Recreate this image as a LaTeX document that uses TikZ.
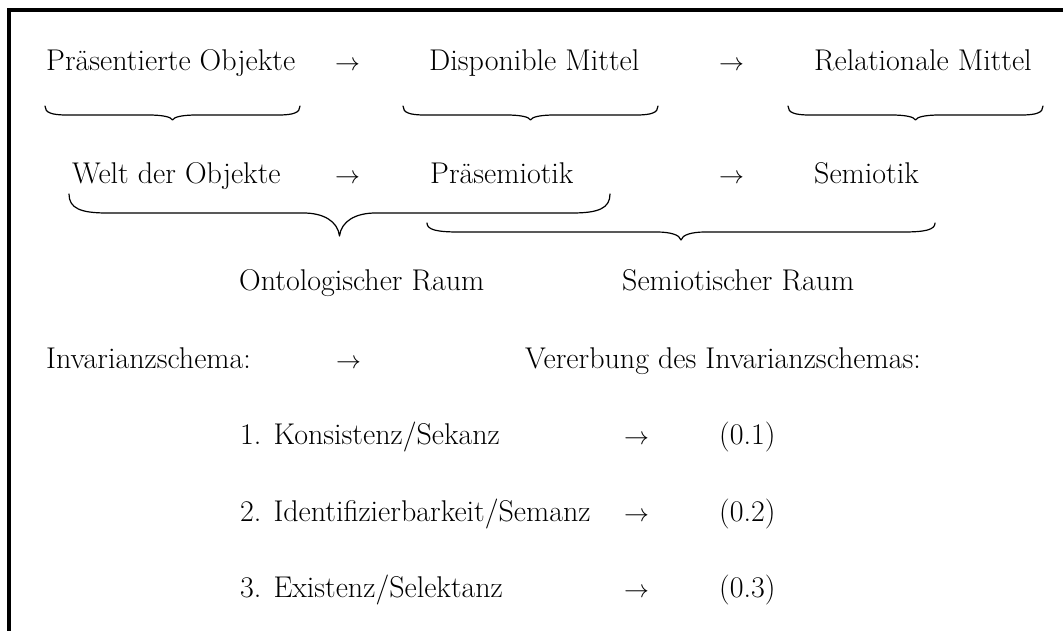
\documentclass[tikz,border=0pt]{standalone}
\usepackage{fontspec}
\newcommand{\mybrace}[7]{% xl xr yend ybar ytip curlwidth tiphalfwidth
  \draw[bracestroke] (#1,#3) .. controls (#1,{#3+0.75*(#4-#3)}) and ({#1+0.3*#6},#4) .. ({#1+#6},#4)
  -- ({(#1+#2)/2-#7},#4) .. controls ({(#1+#2)/2-0.45*#7},#4) and ({(#1+#2)/2-0.05*#7},{#4+0.35*(#5-#4)}) .. ({(#1+#2)/2},#5)
  .. controls ({(#1+#2)/2+0.05*#7},{#4+0.35*(#5-#4)}) and ({(#1+#2)/2+0.45*#7},#4) .. ({(#1+#2)/2+#7},#4)
  -- ({#2-#6},#4) .. controls ({#2-0.3*#6},#4) and (#2,{#3+0.75*(#4-#3)}) .. (#2,#3);}
\begin{document}
\begin{tikzpicture}[x=1pt,y=-1pt,
  txt/.style={anchor=base west, inner sep=0pt, font=\fontsize{30}{34}\selectfont},
  bracestroke/.style={line width=1.2pt, line cap=round, line join=round},
  frameline/.style={line width=3.6pt}]
\clip (0,0) rectangle (1063,630);
\fill[white] (0,0) rectangle (1063,630);
\draw[frameline] (9,640) -- (9,10) -- (1075,10);

% row 1
\node[txt] (po) at (46,70) {Präsentierte Objekte};
\node[txt] (r1a) at (335,70) {$\rightarrow$};
\node[txt] (dm) at (429,70) {Disponible Mittel};
\node[txt] (r1b) at (719,70) {$\rightarrow$};
\node[txt] (rm) at (814,70) {Relationale Mittel};
\mybrace{45}{300}{106}{115}{120}{22}{24}
\mybrace{403}{658}{106}{115}{120}{22}{24}
\mybrace{788}{1043}{106}{115}{120}{22}{24}

% row 2
\node[txt] (wo) at (72,183) {Welt der Objekte};
\node[txt] (r2a) at (335,183) {$\rightarrow$};
\node[txt] (ps) at (430,183) {Präsemiotik};
\node[txt] (r2b) at (719,183) {$\rightarrow$};
\node[txt] (se) at (814,183) {Semiotik};
\mybrace{69}{610}{194}{213}{236}{38}{36}
\mybrace{427}{935}{223}{232}{240}{32}{24}

% row 3
\node[txt] (or) at (239,290) {Ontologischer Raum};
\node[txt] (sr) at (622,290) {Semiotischer Raum};

% row 4
\node[txt] (is) at (46,368) {Invarianzschema:};
\node[txt] (r4) at (336,368) {$\rightarrow$};
\node[txt] (vi) at (525,368) {Vererbung des Invarianzschemas:};

% rows 5-7
\node[txt] (k1) at (240,444) {1. Konsistenz/Sekanz};
\node[txt] (r5) at (624,444) {$\rightarrow$};
\node[txt] (n1) at (719,444) {(0.1)};
\node[txt] (k2) at (240,521) {2. Identifizierbarkeit/Semanz};
\node[txt] (r6) at (624,521) {$\rightarrow$};
\node[txt] (n2) at (719,521) {(0.2)};
\node[txt] (k3) at (240,597) {3. Existenz/Selektanz};
\node[txt] (r7) at (624,597) {$\rightarrow$};
\node[txt] (n3) at (719,597) {(0.3)};
\end{tikzpicture}
\end{document}
